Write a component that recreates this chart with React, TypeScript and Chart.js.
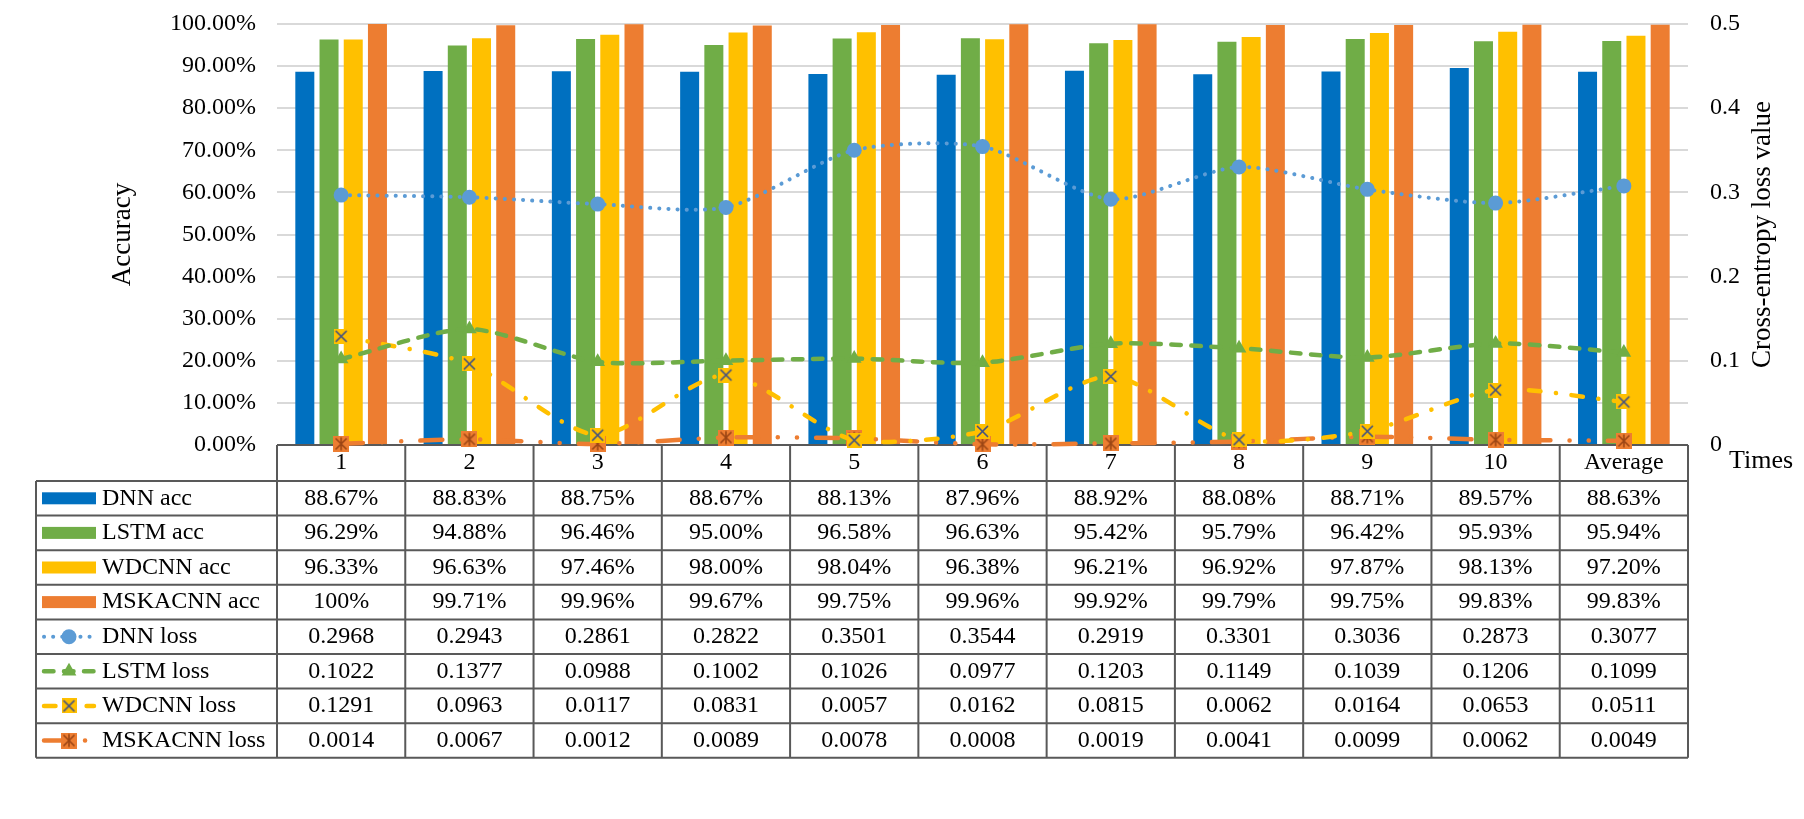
import React, { useEffect, useRef } from 'react';
import { Chart, registerables } from 'chart.js';

Chart.register(...registerables);

const FONT = "'Liberation Serif', 'Times New Roman', Times, serif";

// ---------- data ----------
const categories = ['1', '2', '3', '4', '5', '6', '7', '8', '9', '10', 'Average'];
const seriesNames = ['DNN acc', 'LSTM acc', 'WDCNN acc', 'MSKACNN acc', 'DNN loss', 'LSTM loss', 'WDCNN loss', 'MSKACNN loss'];

const dnnAcc = [88.67, 88.83, 88.75, 88.67, 88.13, 87.96, 88.92, 88.08, 88.71, 89.57, 88.63];
const lstmAcc = [96.29, 94.88, 96.46, 95.0, 96.58, 96.63, 95.42, 95.79, 96.42, 95.93, 95.94];
const wdcnnAcc = [96.33, 96.63, 97.46, 98.0, 98.04, 96.38, 96.21, 96.92, 97.87, 98.13, 97.2];
const mskacnnAcc = [100, 99.71, 99.96, 99.67, 99.75, 99.96, 99.92, 99.79, 99.75, 99.83, 99.83];

const dnnLoss = [0.2968, 0.2943, 0.2861, 0.2822, 0.3501, 0.3544, 0.2919, 0.3301, 0.3036, 0.2873, 0.3077];
const lstmLoss = [0.1022, 0.1377, 0.0988, 0.1002, 0.1026, 0.0977, 0.1203, 0.1149, 0.1039, 0.1206, 0.1099];
const wdcnnLoss = [0.1291, 0.0963, 0.0117, 0.0831, 0.0057, 0.0162, 0.0815, 0.0062, 0.0164, 0.0653, 0.0511];
const mskacnnLoss = [0.0014, 0.0067, 0.0012, 0.0089, 0.0078, 0.0008, 0.0019, 0.0041, 0.0099, 0.0062, 0.0049];

const accAxis = { min: 0, max: 100, step: 10 };
const lossAxis = { min: 0, max: 0.5, step: 0.1 };

const leftTitle = 'Accuracy';
const rightTitle = 'Cross-entropy loss value';
const xTitle = 'Times';

// ---------- styles / layout ----------
const BLUE = '#0070c0';
const GREEN = '#70ad47';
const YELLOW = '#ffc000';
const ORANGE = '#ed7d31';
const LBLUE = '#5b9bd5';

const AREA_TOP = 24;
const AREA_BOTTOM = 445;

const barColors = [BLUE, GREEN, YELLOW, ORANGE];
const lineStyles = [
  { color: LBLUE, width: 4, dash: [0.1, 9], marker: 'circle', radius: 7.5 },
  { color: GREEN, width: 4.5, dash: [9.5, 10.5], marker: 'triangle', radius: 8.5 },
  { color: YELLOW, width: 4.5, dash: [11.5, 15.5, 0.1, 15.5], marker: 'xsquare', radius: 7 },
  { color: ORANGE, width: 4.5, dash: [22, 19, 0.1, 19, 0.1, 19], marker: 'starsquare', radius: 7.5 },
];

function makeXSquare(size: number): HTMLCanvasElement {
  const c = document.createElement('canvas');
  c.width = size;
  c.height = size;
  const g = c.getContext('2d')!;
  g.fillStyle = YELLOW;
  g.fillRect(0, 0, size, size);
  g.strokeStyle = '#3d4e85';
  g.lineWidth = 1.6;
  g.beginPath();
  g.moveTo(2, 2);
  g.lineTo(size - 2, size - 2);
  g.moveTo(size - 2, 2);
  g.lineTo(2, size - 2);
  g.stroke();
  return c;
}

function makeStarSquare(size: number): HTMLCanvasElement {
  const c = document.createElement('canvas');
  c.width = size;
  c.height = size;
  const g = c.getContext('2d')!;
  g.fillStyle = ORANGE;
  g.fillRect(0, 0, size, size);
  g.strokeStyle = '#9c4615';
  g.lineWidth = 1.6;
  g.beginPath();
  g.moveTo(2.5, 2.5);
  g.lineTo(size - 2.5, size - 2.5);
  g.moveTo(size - 2.5, 2.5);
  g.lineTo(2.5, size - 2.5);
  g.moveTo(size / 2, 1.5);
  g.lineTo(size / 2, size - 1.5);
  g.stroke();
  return c;
}

const fmtAcc = (v: number) => (v === 100 ? '100%' : v.toFixed(2) + '%');
const fmtLoss = (v: number) => v.toFixed(4);

export default function App() {
  const ref = useRef<HTMLCanvasElement>(null);

  useEffect(() => {
    const canvas = ref.current!;
    const xMarker = makeXSquare(15);
    const starMarker = makeStarSquare(16);
    const markerImg: Record<string, any> = { xsquare: xMarker, starsquare: starMarker };

    const accSeries = [dnnAcc, lstmAcc, wdcnnAcc, mskacnnAcc];
    const lossSeries = [dnnLoss, lstmLoss, wdcnnLoss, mskacnnLoss];

    const drawMarker = (ctx: CanvasRenderingContext2D, kind: string, r: number, color: string, x: number, y: number) => {
      ctx.save();
      ctx.setLineDash([]);
      ctx.fillStyle = color;
      ctx.strokeStyle = color;
      if (kind === 'circle') {
        ctx.beginPath();
        ctx.arc(x, y, r, 0, Math.PI * 2);
        ctx.fill();
      } else if (kind === 'triangle') {
        ctx.beginPath();
        ctx.moveTo(x, y - r);
        ctx.lineTo(x + r * 0.866, y + r / 2);
        ctx.lineTo(x - r * 0.866, y + r / 2);
        ctx.closePath();
        ctx.fill();
      } else {
        const img = markerImg[kind];
        ctx.drawImage(img, x - img.width / 2, y - img.height / 2);
      }
      ctx.restore();
    };

    const tablePlugin = {
      id: 'dataTable',
      beforeDatasetsDraw(chart: any) {
        const { ctx, chartArea } = chart;
        const xs = chart.scales.x;
        const n = categories.length;
        const centers = categories.map((_, i) => xs.getPixelForValue(i));
        const step = n > 1 ? centers[1] - centers[0] : chartArea.right - chartArea.left;
        const edges = [centers[0] - step / 2, ...centers.map((c: number) => c + step / 2)];
        const top = chartArea.bottom;
        const headerH = 36;
        const rowH = 34.6;
        const legendLeft = 36;
        const bottom = top + headerH + rowH * seriesNames.length;
        const right = edges[n];

        ctx.save();
        ctx.fillStyle = '#000';
        ctx.font = `24px ${FONT}`;
        ctx.textAlign = 'center';
        ctx.textBaseline = 'middle';
        categories.forEach((c, i) => ctx.fillText(c, centers[i], top + headerH / 2));

        seriesNames.forEach((name, r) => {
          const yc = top + headerH + rowH * r + rowH / 2;
          if (r < 4) {
            ctx.fillStyle = barColors[r];
            ctx.fillRect(42, yc - 6, 54, 12);
          } else {
            const st = lineStyles[r - 4];
            ctx.save();
            ctx.strokeStyle = st.color;
            ctx.lineWidth = st.width;
            ctx.lineCap = 'round';
            ctx.setLineDash(st.dash);
            ctx.beginPath();
            ctx.moveTo(44, yc);
            ctx.lineTo(94, yc);
            ctx.stroke();
            ctx.restore();
            drawMarker(ctx, st.marker, st.radius, st.color, 69, yc);
          }
          ctx.fillStyle = '#000';
          ctx.textAlign = 'left';
          ctx.fillText(name, 102, yc);
          ctx.textAlign = 'center';
          const vals = r < 4 ? accSeries[r].map(fmtAcc) : lossSeries[r - 4].map(fmtLoss);
          vals.forEach((v, i) => ctx.fillText(v, centers[i], yc));
        });

        // borders
        ctx.strokeStyle = '#595959';
        ctx.lineWidth = 2;
        ctx.setLineDash([]);
        ctx.beginPath();
        ctx.moveTo(edges[0], top);
        ctx.lineTo(right, top);
        for (let r = 0; r <= seriesNames.length; r++) {
          const y = top + headerH + rowH * r;
          ctx.moveTo(legendLeft, y);
          ctx.lineTo(right, y);
        }
        edges.forEach((e: number) => {
          ctx.moveTo(e, top);
          ctx.lineTo(e, bottom);
        });
        ctx.moveTo(legendLeft, top + headerH);
        ctx.lineTo(legendLeft, bottom);
        ctx.stroke();

        // axis titles
        const midY = (chartArea.top + chartArea.bottom) / 2;
        ctx.fillStyle = '#000';
        ctx.font = `27px ${FONT}`;
        ctx.textAlign = 'center';
        ctx.textBaseline = 'middle';
        ctx.save();
        ctx.translate(123, midY);
        ctx.rotate(-Math.PI / 2);
        ctx.fillText(leftTitle, 0, 0);
        ctx.restore();
        ctx.save();
        ctx.translate(1763, midY);
        ctx.rotate(-Math.PI / 2);
        ctx.fillText(rightTitle, 0, 0);
        ctx.restore();
        ctx.textAlign = 'left';
        ctx.font = `26px ${FONT}`;
        ctx.fillText(xTitle, 1729, top + 16);
        ctx.restore();
      },
    };

    const barDatasets = accSeries.map((d, i) => ({
      type: 'bar' as const,
      label: seriesNames[i],
      data: d,
      backgroundColor: barColors[i],
      borderWidth: 0,
      yAxisID: 'y',
      order: 2,
      categoryPercentage: 0.755,
      barPercentage: 0.785,
    }));

    const lineDatasets = lossSeries.map((d, i) => {
      const st = lineStyles[i];
      const ps = st.marker === 'circle' || st.marker === 'triangle' ? st.marker : markerImg[st.marker];
      return {
        type: 'line' as const,
        label: seriesNames[i + 4],
        data: d,
        borderColor: st.color,
        backgroundColor: st.color,
        borderWidth: st.width,
        borderDash: st.dash,
        borderCapStyle: 'round' as const,
        tension: 0.25,
        fill: false,
        pointStyle: ps,
        pointRadius: st.radius,
        pointHoverRadius: st.radius,
        pointBackgroundColor: st.color,
        pointBorderColor: st.color,
        pointBorderWidth: 0,
        yAxisID: 'y1',
        order: 1,
        clip: false as any,
      };
    });

    const pad = { top: AREA_TOP, bottom: 819 - AREA_BOTTOM, left: 0, right: 0 };

    const fitVertical = (w: number) => (s: any) => {
      s.width = w;
      s.paddingTop = 0;
      s.paddingBottom = 0;
    };

    const chart = new Chart(canvas, {
      type: 'bar',
      data: {
        labels: categories,
        datasets: [...lineDatasets, ...barDatasets] as any,
      },
      options: {
        responsive: false,
        animation: false,
        events: [],
        layout: { padding: pad, autoPadding: false },
        plugins: {
          legend: { display: false },
          tooltip: { enabled: false },
          title: { display: false },
        },
        scales: {
          x: {
            display: false,
            offset: true,
            grid: { display: false },
          },
          y: {
            position: 'left',
            min: accAxis.min,
            max: accAxis.max,
            border: { display: false },
            grid: { color: '#d9d9d9', lineWidth: 2, drawTicks: false },
            ticks: {
              stepSize: accAxis.step,
              padding: 21,
              color: '#000',
              font: { family: FONT, size: 24 },
              callback: (v: any) => Number(v).toFixed(2) + '%',
            },
            afterFit: fitVertical(277),
          },
          y1: {
            position: 'right',
            min: lossAxis.min,
            max: lossAxis.max,
            border: { display: false },
            grid: { display: false, drawTicks: false },
            ticks: {
              stepSize: lossAxis.step,
              padding: 22,
              color: '#000',
              font: { family: FONT, size: 24 },
            },
            afterFit: fitVertical(116),
          },
        },
      } as any,
      plugins: [tablePlugin],
    });

    // make the plot area land exactly where the reference has it
    for (let k = 0; k < 3; k++) {
      const ca = chart.chartArea;
      const p = (chart.config.options as any).layout.padding;
      const dt = AREA_TOP - ca.top;
      const db = ca.bottom - AREA_BOTTOM;
      if (Math.abs(dt) < 0.5 && Math.abs(db) < 0.5) break;
      p.top = Math.max(0, p.top + dt);
      p.bottom = Math.max(0, p.bottom + db);
      chart.update();
    }

    return () => chart.destroy();
  }, []);

  return (
    <div style={{ position: 'absolute', left: 0, top: 0, width: 1804, height: 819, background: '#fff' }}>
      <canvas ref={ref} width={1804} height={819} style={{ display: 'block', width: 1804, height: 819 }} />
    </div>
  );
}
